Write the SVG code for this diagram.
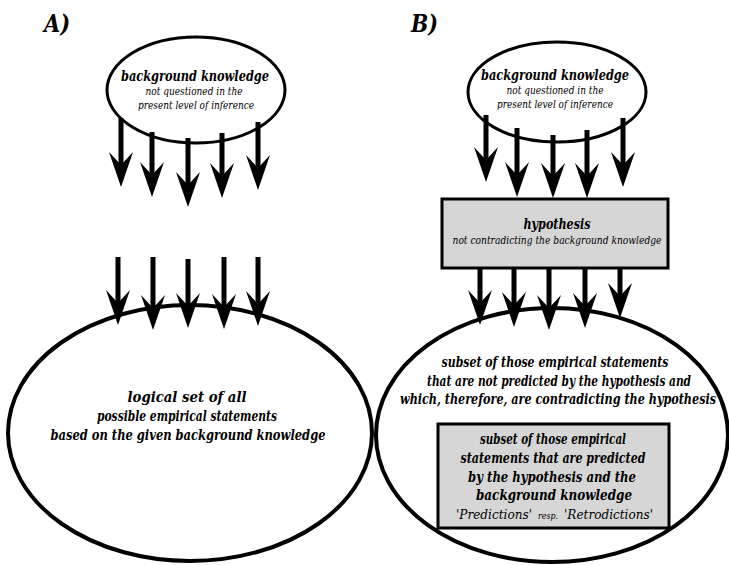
<svg xmlns="http://www.w3.org/2000/svg" width="729" height="565" viewBox="0 0 729 565">
  <style>
    text { font-family: 'DejaVu Serif', 'Liberation Serif', serif; font-style: italic; text-anchor: middle; fill: #000; }
    .label { font-size: 24px; font-weight: bold; text-anchor: start; }
    .title { font-size: 15px; font-weight: bold; }
    .sub { font-size: 11.5px; }
    .body { font-size: 14.5px; font-weight: bold; }
    .note { font-size: 13.5px; text-anchor: start; }
    .tiny { font-size: 9.5px; text-anchor: start; }
    .oval { fill: #fff; stroke: #000; stroke-width: 3; }
    .big { fill: #fff; stroke: #000; stroke-width: 4; }
    .box { fill: #d6d6d6; stroke: #000; stroke-width: 3; }
    .arrow { stroke: #000; stroke-width: 5; fill: none; marker-end: url(#head); }
  </style>
  <defs>
    <marker id="head" markerUnits="userSpaceOnUse" viewBox="-36 -13 38 26" refX="-22" refY="0" markerWidth="38" markerHeight="26" orient="auto">
      <path d="M0,0 L-35,-12 L-22,0 L-35,12 Z" fill="#000"/>
    </marker>
  </defs>
  <rect width="729" height="565" fill="#fff"/>

  <text class="label" x="44" y="32" textLength="26" lengthAdjust="spacingAndGlyphs">A)</text>
  <text class="label" x="411" y="32" textLength="27" lengthAdjust="spacingAndGlyphs">B)</text>

  <!-- panel A -->
  <g id="a-background">
    <ellipse class="oval" cx="196" cy="90" rx="89" ry="53"/>
    <text class="title" x="195" y="81" textLength="148" lengthAdjust="spacingAndGlyphs">background knowledge</text>
    <text class="sub" x="194" y="95" textLength="97" lengthAdjust="spacingAndGlyphs">not questioned in the</text>
    <text class="sub" x="196" y="109" textLength="116" lengthAdjust="spacingAndGlyphs">present level of inference</text>
  </g>
  <g id="a-statements">
    <ellipse class="big" cx="190" cy="433" rx="182" ry="128"/>
    <text class="body" x="187" y="402" textLength="119" lengthAdjust="spacingAndGlyphs">logical set of all</text>
    <text class="body" x="187" y="421" textLength="180" lengthAdjust="spacingAndGlyphs">possible empirical statements</text>
    <text class="body" x="188" y="440" textLength="275" lengthAdjust="spacingAndGlyphs">based on the given background knowledge</text>
  </g>

  <!-- panel B -->
  <g id="b-background">
    <ellipse class="oval" cx="557" cy="92" rx="89" ry="50"/>
    <text class="title" x="555" y="80" textLength="148" lengthAdjust="spacingAndGlyphs">background knowledge</text>
    <text class="sub" x="555" y="94" textLength="97" lengthAdjust="spacingAndGlyphs">not questioned in the</text>
    <text class="sub" x="555" y="108" textLength="116" lengthAdjust="spacingAndGlyphs">present level of inference</text>
  </g>
  <g id="b-hypothesis">
    <rect class="box" x="442" y="199" width="226" height="69"/>
    <text class="title" x="557" y="229" textLength="67" lengthAdjust="spacingAndGlyphs">hypothesis</text>
    <text class="sub" x="557" y="244" textLength="209" lengthAdjust="spacingAndGlyphs">not contradicting the background knowledge</text>
  </g>
  <g id="b-statements">
    <ellipse class="big" cx="552" cy="435" rx="176" ry="127"/>
    <text class="body" x="555" y="367" textLength="227" lengthAdjust="spacingAndGlyphs">subset of those empirical statements</text>
    <text class="body" x="559" y="386" textLength="264" lengthAdjust="spacingAndGlyphs">that are not predicted by the hypothesis and</text>
    <text class="body" x="558" y="404" textLength="316" lengthAdjust="spacingAndGlyphs">which, therefore, are contradicting the hypothesis</text>
  </g>
  <g id="b-predictions">
    <rect class="box" x="438" y="424" width="231" height="104"/>
    <text class="body" x="553" y="444" textLength="146" lengthAdjust="spacingAndGlyphs">subset of those empirical</text>
    <text class="body" x="553" y="463" textLength="185" lengthAdjust="spacingAndGlyphs">statements that are predicted</text>
    <text class="body" x="552" y="482" textLength="168" lengthAdjust="spacingAndGlyphs">by the hypothesis and the</text>
    <text class="body" x="554" y="500" textLength="156" lengthAdjust="spacingAndGlyphs">background knowledge</text>
    <text class="note" x="456" y="519" textLength="76" lengthAdjust="spacingAndGlyphs">'Predictions'</text>
    <text class="tiny" x="538" y="519" textLength="20" lengthAdjust="spacingAndGlyphs">resp.</text>
    <text class="note" x="564" y="519" textLength="89" lengthAdjust="spacingAndGlyphs">'Retrodictions'</text>
  </g>

  <g id="connectors">
    <!-- A: background knowledge, downward -->
    <line class="arrow" x1="121" y1="118" x2="121" y2="165"/>
    <line class="arrow" x1="152" y1="132" x2="152" y2="175"/>
    <line class="arrow" x1="188" y1="138" x2="188" y2="185"/>
    <line class="arrow" x1="222" y1="133" x2="222" y2="176"/>
    <line class="arrow" x1="258" y1="122" x2="258" y2="168"/>
    <!-- A: into the set of statements -->
    <line class="arrow" x1="118" y1="257" x2="118" y2="303"/>
    <line class="arrow" x1="153" y1="257" x2="153" y2="308"/>
    <line class="arrow" x1="188" y1="259" x2="188" y2="306"/>
    <line class="arrow" x1="224" y1="257" x2="224" y2="307"/>
    <line class="arrow" x1="258" y1="257" x2="258" y2="304"/>
    <!-- B: background knowledge into hypothesis -->
    <line class="arrow" x1="486" y1="115" x2="486" y2="160"/>
    <line class="arrow" x1="517" y1="128" x2="517" y2="175"/>
    <line class="arrow" x1="553" y1="135" x2="553" y2="176"/>
    <line class="arrow" x1="587" y1="130" x2="587" y2="176"/>
    <line class="arrow" x1="623" y1="118" x2="623" y2="165"/>
    <!-- B: hypothesis into statements -->
    <line class="arrow" x1="480" y1="268" x2="480" y2="303"/>
    <line class="arrow" x1="514" y1="268" x2="514" y2="305"/>
    <line class="arrow" x1="549" y1="268" x2="549" y2="308"/>
    <line class="arrow" x1="585" y1="268" x2="585" y2="306"/>
    <line class="arrow" x1="620" y1="268" x2="620" y2="296"/>
  </g>
</svg>
